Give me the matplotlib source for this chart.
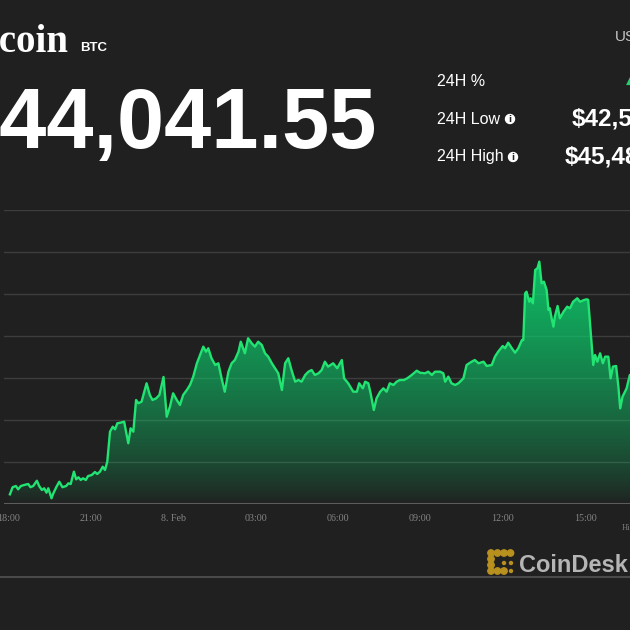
import matplotlib
matplotlib.use("Agg")
import matplotlib.pyplot as plt
import matplotlib.dates as mdates
from matplotlib.patches import Circle
import numpy as np
from datetime import datetime, timedelta

# ---------------- data ----------------
times = [
    "18:02", "18:08", "18:15", "18:20", "18:26", "18:33", "18:42", "18:47", "18:53", "19:01",
    "19:06", "19:12", "19:17", "19:22", "19:26", "19:33", "19:37", "19:44", "19:50", "19:57",
    "20:05", "20:10", "20:15", "20:22", "20:27", "20:32", "20:37", "20:42", "20:48", "20:53",
    "21:01", "21:08", "21:13", "21:19", "21:25", "21:30", "21:35", "21:41", "21:47", "21:52",
    "21:57", "22:04", "22:12", "22:16", "22:21", "22:26", "22:32", "22:38", "22:43", "22:50",
    "23:01", "23:08", "23:14", "23:22", "23:29", "23:38", "23:45", "23:52", "23:59", "00:07",
    "00:14", "00:21", "00:29", "00:36", "00:43", "00:51", "00:58", "01:05", "01:11", "01:16",
    "01:23", "01:31", "01:38", "01:45", "01:52", "02:00", "02:07", "02:14", "02:22", "02:27",
    "02:36", "02:43", "02:51", "02:58", "03:05", "03:13", "03:20", "03:27", "03:35", "03:42",
    "03:49", "03:57", "04:04", "04:11", "04:18", "04:26", "04:33", "04:40", "04:48", "04:55",
    "05:02", "05:09", "05:17", "05:24", "05:31", "05:38", "05:49", "05:58", "06:08", "06:13",
    "06:22", "06:33", "06:41", "06:46", "06:54", "06:59", "07:06", "07:11", "07:18", "07:24",
    "07:32", "07:39", "07:46", "07:53", "08:01", "08:08", "08:15", "08:24", "08:31", "08:41",
    "08:52", "08:59", "09:10", "09:17", "09:25", "09:32", "09:43", "09:50", "09:54", "10:01",
    "10:08", "10:16", "10:23", "10:34", "10:41", "10:52", "10:59", "11:07", "11:18", "11:25",
    "11:36", "11:43", "11:50", "12:00", "12:05", "12:12", "12:20", "12:27", "12:34", "12:42",
    "12:45", "12:47", "12:49", "12:52", "12:58", "13:01", "13:06", "13:11", "13:16", "13:20",
    "13:25", "13:30", "13:36", "13:40", "13:43", "13:47", "13:51", "13:54", "14:00", "14:05",
    "14:13", "14:21", "14:27", "14:34", "14:43", "14:49", "14:58", "15:04", "15:07", "15:12",
    "15:18", "15:22", "15:27", "15:33", "15:39", "15:44", "15:51", "15:56", "16:01", "16:08",
    "16:13", "16:17", "16:22", "16:31", "16:38", "16:52",
]
prices = [
    42615, 42700, 42714, 42675, 42714, 42726, 42738, 42700, 42714, 42777,
    42714, 42667, 42687, 42635, 42687, 42568, 42627, 42706, 42765, 42700,
    42714, 42746, 42738, 42885, 42794, 42818, 42786, 42806, 42786, 42833,
    42845, 42881, 42857, 42885, 42944, 42905, 43004, 43361, 43420, 43389,
    43461, 43468, 43480, 43361, 43223, 43401, 43361, 43738, 43699, 43718,
    43937, 43798, 43738, 43758, 43798, 44012, 43539, 43658, 43818, 43738,
    43679, 43798, 43857, 43917, 44016, 44175, 44274, 44373, 44313, 44354,
    44235, 44155, 44175, 43996, 43837, 44075, 44175, 44214, 44313, 44432,
    44294, 44473, 44413, 44373, 44432, 44393, 44294, 44254, 44175, 44116,
    44056, 43857, 44175, 44235, 44095, 43956, 43976, 43956, 44036, 44075,
    44095, 44036, 44056, 44095, 44194, 44135, 44175, 44116, 44214, 43996,
    43937, 43837, 43837, 43937, 43877, 43956, 43937, 43818, 43619, 43758,
    43837, 43877, 43837, 43937, 43917, 43956, 43976, 43976, 43996, 44036,
    44087, 44063, 44056, 44075, 44036, 44075, 44075, 44056, 43956, 44016,
    43937, 43917, 43937, 43996, 44155, 44194, 44214, 44175, 44194, 44143,
    44155, 44254, 44313, 44381, 44354, 44420, 44354, 44301, 44354, 44452,
    44452, 44730, 45008, 45027, 44908, 44949, 44889, 45286, 45306, 45385,
    45127, 45147, 45048, 44810, 44830, 44711, 44611, 44730, 44857, 44711,
    44789, 44849, 44830, 44908, 44949, 44908, 44929, 44937, 44929, 44571,
    44155, 44274, 44194, 44294, 44175, 44254, 44254, 43996, 44135, 44143,
    43896, 43639, 43777, 43877, 44036, 44041.55,
]
tick_times = ["18:00", "21:00", "00:00", "03:00", "06:00", "09:00", "12:00", "15:00"]
tick_labels = ["18:00", "21:00", "8. Feb", "03:00", "06:00", "09:00", "12:00", "15:00"]
grid_levels = [42500, 43000, 43500, 44000, 44500, 45000, 45500, 46000]

title_name = "Bitcoin"
title_symbol = "BTC"
current_price = "$44,041.55"
stat_labels = ["24H %", "24H Low", "24H High"]
stat_values = ["$42,538.03", "$45,483.97"]
currency = "USD"
change_text = "▲ 3.18%"
brand = "CoinDesk"
credit = "Highcharts.com"

# ---------------- helpers ----------------
BG = "#202020"
W = H = 630.0
start_day = datetime(2022, 2, 7)


def parse_times(ts, base):
    out, day, prev = [], 0, -1
    for t in ts:
        h, m = map(int, t.split(":"))
        mins = h * 60 + m
        if mins < prev:
            day += 1
        prev = mins
        out.append(base + timedelta(days=day, minutes=mins))
    return out


def fx(x):
    return x / W


def fy(y):
    return 1 - y / H


x_dt = parse_times(times, start_day)
tick_dt = parse_times(tick_times, start_day)
x = mdates.date2num(x_dt)
y = np.array(prices, dtype=float)

fig = plt.figure(figsize=(6.3, 6.3), dpi=100)
fig.patch.set_facecolor(BG)

# axes: plot area from px x=4..630, y=210..504
ax = fig.add_axes([fx(4), fy(504), fx(626), (504 - 210) / H])
ax.set_facecolor(BG)
for s in ax.spines.values():
    s.set_visible(False)

x_left = mdates.date2num(start_day + timedelta(hours=17, minutes=49.1))
x_right = mdates.date2num(start_day + timedelta(hours=24 + 16, minutes=38.4))
ax.set_xlim(x_left, x_right)
ax.set_ylim(grid_levels[0], grid_levels[-1])

for g in grid_levels[1:]:
    ax.axhline(g, color="#3d3d3d", lw=1.0, zorder=1)
ax.axhline(grid_levels[0], color="#5c5c5c", lw=1.5, zorder=4)

# gradient fill under the line
poly = ax.fill_between(x, y, grid_levels[0], color="none", lw=0)
grad = np.linspace(0, 1, 256).reshape(-1, 1)
green = np.array([0.05, 0.84, 0.44])
alpha = grad ** 0.75
img = np.zeros((256, 1, 4))
img[..., :3] = green
img[..., 3] = alpha
im = ax.imshow(img, extent=[x_left, x_right, grid_levels[0], grid_levels[-1]],
               origin="lower", aspect="auto", zorder=2, interpolation="bilinear")
clip = poly.get_paths()[0]
im.set_clip_path(clip, transform=ax.transData)

ax.plot(x, y, color="#22e472", lw=1.7, zorder=3, solid_joinstyle="round")

ax.set_xticks(mdates.date2num(tick_dt))
ax.set_xticklabels(tick_labels)
ax.tick_params(axis="x", length=0, pad=7, labelsize=7.2, labelcolor="#858585")
for lbl in ax.get_xticklabels():
    lbl.set_family("Liberation Serif")
ax.set_yticks([])

# ---------------- header ----------------
fig.text(fx(68), fy(52), title_name, ha="right", va="baseline", color="white",
         fontsize=28, fontweight="bold", family="Liberation Serif")
fig.text(fx(80), fy(51), title_symbol, ha="left", va="baseline", color="white",
         fontsize=9.5, fontweight="bold", family="Liberation Sans")
fig.text(fx(377), fy(148), current_price, ha="right", va="baseline", color="white",
         fontsize=61, fontweight="bold", family="Liberation Sans")

stat_y = [82, 119, 157]
for lab, yy in zip(stat_labels, stat_y):
    fig.text(fx(437), fy(yy), lab, ha="left", va="center", color="white",
             fontsize=11.5, family="Liberation Sans")
for cx, cy in [(510, 119), (513, 157)]:
    fig.add_artist(Circle((fx(cx), fy(cy)), 4.5 / W, transform=fig.transFigure,
                          color="white", zorder=5))
    fig.text(fx(cx), fy(cy), "i", ha="center", va="center", color=BG,
             fontsize=6, fontweight="bold", family="DejaVu Sans", zorder=6)
fig.text(fx(572), fy(119), stat_values[0], ha="left", va="center", color="white",
         fontsize=17.5, fontweight="bold", family="Liberation Sans")
fig.text(fx(565), fy(157), stat_values[1], ha="left", va="center", color="white",
         fontsize=17.5, fontweight="bold", family="Liberation Sans")
fig.text(fx(615), fy(37), currency, ha="left", va="center", color="#c4c4c4",
         fontsize=11, family="Liberation Sans")
fig.text(fx(626), fy(78), change_text, ha="left", va="center", color="#1fd36a",
         fontsize=12, fontweight="bold", family="DejaVu Sans")

# ---------------- footer ----------------
fig.text(fx(622), fy(528), credit, ha="left", va="center", color="#7e7e7e",
         fontsize=6, family="Liberation Serif")
fig.add_artist(plt.Line2D([0, 1], [fy(577), fy(577)], transform=fig.transFigure,
                          color="#4a4a4a", lw=1.5))
gold = "#b8901e"
big = [(491, 553), (497.5, 553), (504, 553), (510.5, 553),
       (491, 559), (491, 565), (491, 571), (497.5, 571), (504, 571)]
small = [(504, 563), (511, 563), (511, 571)]
for cx, cy in big:
    fig.add_artist(Circle((fx(cx), fy(cy)), 3.2 / W, transform=fig.transFigure, color=gold))
for cx, cy in small:
    fig.add_artist(Circle((fx(cx), fy(cy)), 1.5 / W, transform=fig.transFigure, color=gold))
fig.text(fx(519), fy(572), brand, ha="left", va="baseline", color="#b5b5b5",
         fontsize=17, fontweight="bold", family="Liberation Sans")

fig.savefig("out.png", dpi=100, facecolor=BG)
